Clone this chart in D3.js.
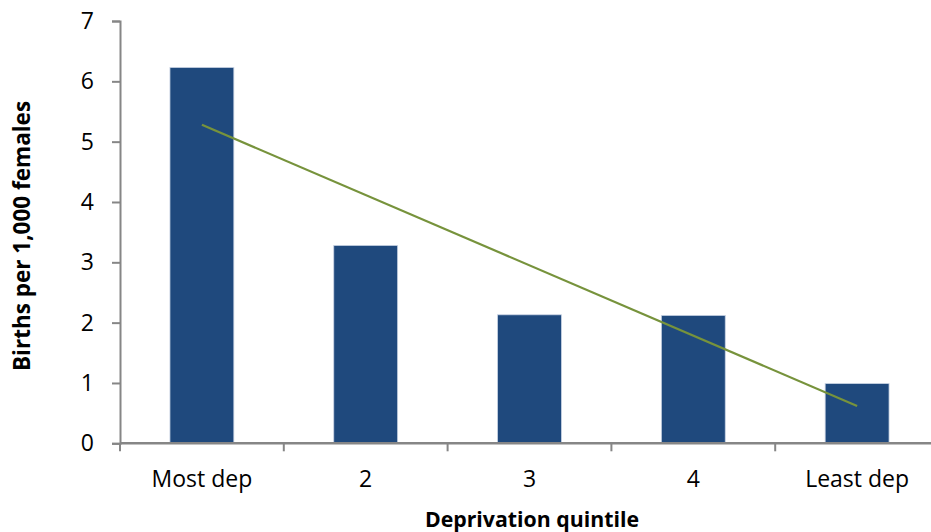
<!DOCTYPE html>
<html>
<head>
<meta charset="utf-8">
<script src="https://cdn.jsdelivr.net/npm/d3@7"></script>
<style>
  html, body { margin: 0; padding: 0; background: #fff; }
  svg { display: block; font-family: "Open Sans", sans-serif; }
</style>
</head>
<body>
<svg id="chart" width="931" height="532"></svg>
<script>
// Births per 1,000 females by deprivation quintile
const categories = ["Most dep", "2", "3", "4", "Least dep"];
const births = [6.23, 3.28, 2.13, 2.12, 0.99];
// Linear trendline, value at first and last category
const trendCategories = ["Most dep", "Least dep"];
const trendValues = [5.28, 0.62];
const yTicks = [0, 1, 2, 3, 4, 5, 6, 7];

const svg = d3.select("#chart");
const margin = { left: 120, right: -8, top: 21, bottom: 88.7 };
const W = 931, H = 532;

const x = d3.scaleBand()
  .domain(categories)
  .range([margin.left, W - margin.right])
  .paddingInner(0.61)
  .paddingOuter(0.305);

const y = d3.scaleLinear()
  .domain([0, 7])
  .range([H - margin.bottom, margin.top]);

const axisColor = "#868686";

// bars
svg.append("g")
  .selectAll("rect")
  .data(births)
  .join("rect")
  .attr("x", (d, i) => x(categories[i]))
  .attr("y", d => y(d))
  .attr("width", x.bandwidth())
  .attr("height", d => y(0) - y(d))
  .attr("fill", "#1f497d")
  .attr("stroke", "#c8d3e3")
  .attr("stroke-width", 0.8);

// y axis
const yAxis = svg.append("g")
  .attr("transform", `translate(${margin.left},0)`)
  .call(d3.axisLeft(y).tickValues(yTicks).tickSize(8).tickPadding(18).tickFormat(d3.format("d")));
yAxis.select(".domain").attr("stroke", axisColor).attr("stroke-width", 2);
yAxis.selectAll(".tick line").attr("stroke", axisColor).attr("stroke-width", 2);
yAxis.selectAll(".tick text")
  .attr("fill", "#000")
  .style("font-size", "23px")
  .style("font-family", "'Open Sans', sans-serif");

// x axis: tick marks at band boundaries, labels centred in bands
const step = x.step();
const xg = svg.append("g").attr("transform", `translate(0,${y(0)})`);
xg.append("line")
  .attr("x1", margin.left).attr("x2", W)
  .attr("y1", 0).attr("y2", 0)
  .attr("stroke", axisColor).attr("stroke-width", 2.4);
xg.selectAll("line.tick")
  .data(categories)
  .join("line")
  .attr("class", "tick")
  .attr("x1", c => x(c) + x.bandwidth() / 2 - step / 2)
  .attr("x2", c => x(c) + x.bandwidth() / 2 - step / 2)
  .attr("y1", 0).attr("y2", 8)
  .attr("stroke", axisColor).attr("stroke-width", 2);
xg.selectAll("text")
  .data(categories)
  .join("text")
  .attr("x", c => x(c) + x.bandwidth() / 2)
  .attr("y", 44)
  .attr("text-anchor", "middle")
  .attr("fill", "#000")
  .style("font-size", "23px")
  .text(c => c);

// trendline
const trendLine = d3.line()
  .x(d => x(d[0]) + x.bandwidth() / 2)
  .y(d => y(d[1]));
svg.append("path")
  .datum(trendCategories.map((c, i) => [c, trendValues[i]]))
  .attr("d", trendLine)
  .attr("fill", "none")
  .attr("stroke", "#77933c")
  .attr("stroke-width", 2.2);

// axis titles
svg.append("text")
  .attr("x", 532)
  .attr("y", 527)
  .attr("text-anchor", "middle")
  .style("font-size", "21.3px")
  .style("font-weight", "bold")
  .text("Deprivation quintile");

svg.append("text")
  .attr("transform", "translate(30,236) rotate(-90)")
  .attr("text-anchor", "middle")
  .style("font-size", "22.5px")
  .style("font-weight", "bold")
  .text("Births per 1,000 females");
</script>
</body>
</html>
